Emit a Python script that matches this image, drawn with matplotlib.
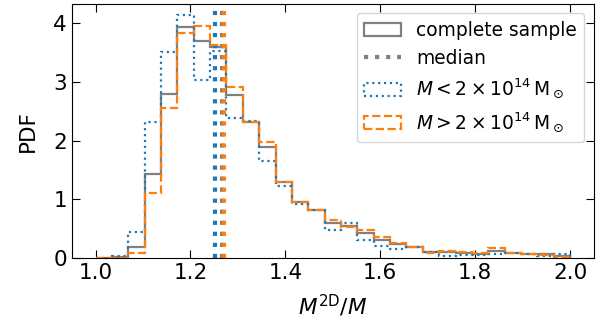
import matplotlib.pyplot as plt
import numpy as np

# 29 equal bins between 1 and 2
bin_edges = np.linspace(1.0, 2.0, 30)

pdf_all = [0.0, 0.01, 0.19, 1.44, 2.80, 3.93, 3.69, 3.60, 2.77, 2.31, 1.89, 1.29,
           0.96, 0.82, 0.59, 0.54, 0.42, 0.31, 0.24, 0.19, 0.11, 0.11, 0.08, 0.07,
           0.125, 0.08, 0.06, 0.06, 0.04]
pdf_low = [0.0, 0.03, 0.45, 2.32, 3.51, 4.14, 3.03, 3.53, 2.39, 2.33, 1.65, 1.23,
           0.92, 0.82, 0.48, 0.60, 0.30, 0.21, 0.15, 0.19, 0.10, 0.03, 0.05, 0.05,
           0.07, 0.08, 0.07, 0.03, 0.06]
pdf_high = [0.0, 0.0, 0.08, 1.11, 2.55, 3.84, 3.95, 3.63, 2.92, 2.31, 1.97, 1.30,
            0.96, 0.82, 0.64, 0.53, 0.47, 0.35, 0.25, 0.19, 0.08, 0.125, 0.11, 0.08,
            0.165, 0.09, 0.07, 0.05, 0.02]

median_all = 1.2655
median_low = 1.2526
median_high = 1.2705


def main():
  plt.rcParams['font.size'] = 15.5
  centers = 0.5 * (bin_edges[1:] + bin_edges[:-1])

  fig = plt.figure(figsize=(6.09, 3.27), dpi=100)
  ax = fig.add_axes([0.118, 0.211, 0.857, 0.777])

  ax.hist(centers, bins=bin_edges, weights=pdf_all, histtype='step',
          color='gray', lw=1.6, label='complete sample')
  ax.axvline(median_all, color='gray', ls=':', lw=3, label='median')
  ax.hist(centers, bins=bin_edges, weights=pdf_low, histtype='step',
          color='tab:blue', ls=':', lw=1.6,
          label=r'$M < 2\times10^{14}\,\mathrm{M}_\odot$')
  ax.axvline(median_low, color='tab:blue', ls=':', lw=3)
  ax.hist(centers, bins=bin_edges, weights=pdf_high, histtype='step',
          color='tab:orange', ls='--', lw=1.6,
          label=r'$M > 2\times10^{14}\,\mathrm{M}_\odot$')
  ax.axvline(median_high, color='tab:orange', ls=':', lw=3)

  ax.set_xlim(0.95, 2.05)
  ax.set_ylim(0, 4.33)
  ax.set_xticks([1.0, 1.2, 1.4, 1.6, 1.8, 2.0])
  ax.set_yticks([0, 1, 2, 3, 4])
  ax.tick_params(direction='in', top=True, right=True, length=6)
  ax.set_xlabel(r'$M^{\rm 2D}/M$', labelpad=7)
  ax.set_ylabel('PDF', labelpad=11)
  ax.legend(loc='upper right', fontsize=13.4)

  fig.savefig('out.png')


if __name__ == "__main__":
  main()
